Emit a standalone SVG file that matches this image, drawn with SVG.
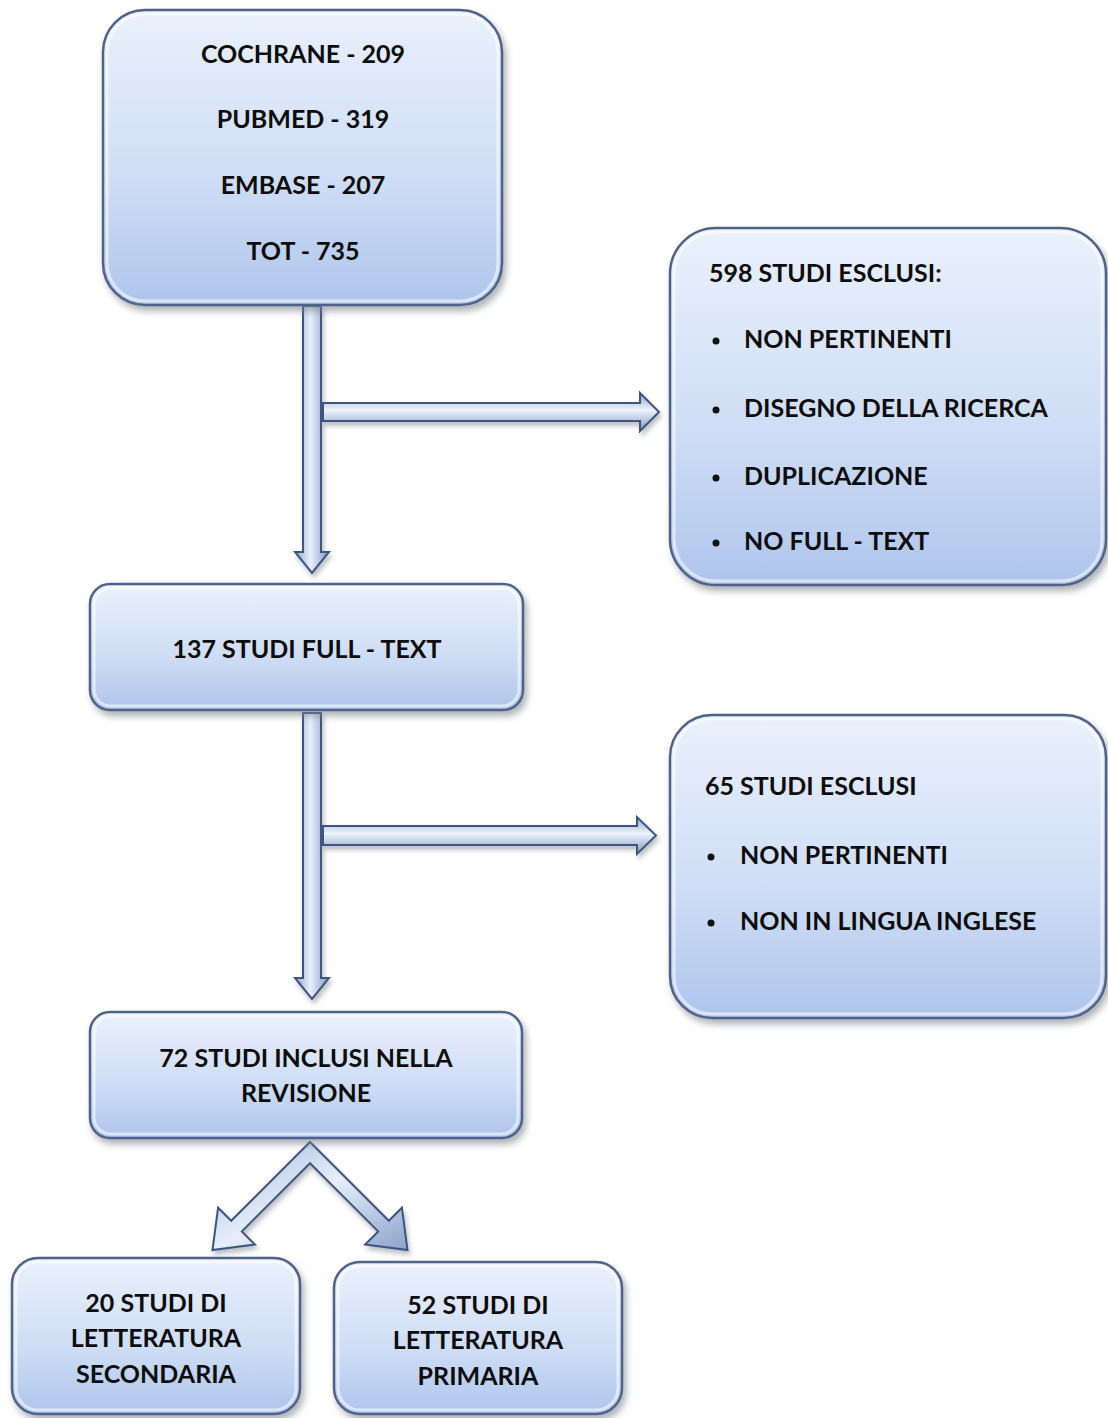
<svg xmlns="http://www.w3.org/2000/svg" width="1108" height="1418" viewBox="0 0 1108 1418">
<style>
.box{fill:url(#gBox);stroke:#4f6488;stroke-width:2.5;filter:url(#sh)}
.bev{fill:none;stroke:#ffffff;stroke-opacity:0.55;stroke-width:3}
.arr{fill:url(#gArr);stroke:#3e5680;stroke-width:2;stroke-linejoin:miter;filter:url(#sh2)}
.arrh{fill:url(#gArrH);stroke:#3e5680;stroke-width:2;stroke-linejoin:miter;filter:url(#sh2)}
text{font-family:"Lato","Open Sans","Liberation Sans",sans-serif;font-weight:700;font-size:25px;fill:#0d0d0d}
.c{text-anchor:middle}
</style>
<defs>
<linearGradient id="gBox" x1="0" y1="0" x2="0" y2="1">
<stop offset="0" stop-color="#eaf1fc"/>
<stop offset="0.6" stop-color="#cddcf5"/>
<stop offset="1" stop-color="#aec5ec"/>
</linearGradient>
<linearGradient id="gArr" x1="0" y1="0" x2="1" y2="0">
<stop offset="0" stop-color="#8ea6cf"/>
<stop offset="0.45" stop-color="#e9f0fb"/>
<stop offset="1" stop-color="#7f98c4"/>
</linearGradient>
<linearGradient id="gArrH" x1="0" y1="0" x2="0" y2="1">
<stop offset="0" stop-color="#8ea6cf"/>
<stop offset="0.45" stop-color="#eef4fc"/>
<stop offset="1" stop-color="#7f98c4"/>
</linearGradient>
<linearGradient id="gArrD" x1="0" y1="0" x2="1" y2="1">
<stop offset="0" stop-color="#9fb5da"/>
<stop offset="0.5" stop-color="#e6eefa"/>
<stop offset="1" stop-color="#8aa2cb"/>
</linearGradient>
<filter id="sh" x="-10%" y="-10%" width="125%" height="130%">
<feDropShadow dx="3" dy="5" stdDeviation="3.5" flood-color="#7a7f88" flood-opacity="0.6"/>
</filter>
<filter id="sh2" x="-20%" y="-20%" width="150%" height="150%">
<feDropShadow dx="2" dy="4" stdDeviation="2.5" flood-color="#7a7f88" flood-opacity="0.5"/>
</filter>
</defs>

<g id="connectors">
<path class="arr" d="M303,306 L321,306 L321,552 L329,552 L312,573 L295,552 L303,552 Z"/>
<path class="arrh" d="M323,403 L640,403 L640,393 L659,412 L640,431 L640,421 L323,421 Z"/>
<path class="arr" d="M303,713 L321,713 L321,978 L329,978 L312,999 L295,978 L303,978 Z"/>
<path class="arrh" d="M323,826 L637,826 L637,817 L656,835.5 L637,854 L637,845 L323,845 Z"/>
<path class="arr" style="fill:url(#gArrD)" d="M310,1142 L388.8,1220.8 L401.9,1207.7 L407.5,1250.1 L365.1,1244.5 L378.2,1231.4 L310,1163.2 L241.8,1231.4 L254.9,1244.5 L212.5,1250.1 L218.1,1207.7 L231.2,1220.8 Z"/>
</g>

<g id="node-databases">
<rect class="box" x="103" y="10" width="399" height="295" rx="42"/>
<rect class="bev" x="107" y="14" width="391" height="287" rx="38"/>
<text class="c" x="303" y="63">COCHRANE - 209</text>
<text class="c" x="303" y="128">PUBMED - 319</text>
<text class="c" x="303" y="194">EMBASE - 207</text>
<text class="c" x="303" y="260">TOT - 735</text>
</g>

<g id="node-esclusi-598">
<rect class="box" x="670" y="228" width="436" height="357" rx="46"/>
<rect class="bev" x="674" y="232" width="428" height="349" rx="42"/>
<text x="709" y="282">598 STUDI ESCLUSI:</text>
<circle cx="716" cy="341" r="3.5" fill="#111"/>
<text x="744" y="348">NON PERTINENTI</text>
<circle cx="716" cy="410" r="3.5" fill="#111"/>
<text x="744" y="417">DISEGNO DELLA RICERCA</text>
<circle cx="716" cy="478" r="3.5" fill="#111"/>
<text x="744" y="485">DUPLICAZIONE</text>
<circle cx="716" cy="543" r="3.5" fill="#111"/>
<text x="744" y="550">NO FULL - TEXT</text>
</g>

<g id="node-full-text">
<rect class="box" x="90" y="584" width="433" height="126" rx="20"/>
<rect class="bev" x="94" y="588" width="425" height="118" rx="17"/>
<text class="c" x="307" y="658">137 STUDI FULL - TEXT</text>
</g>

<g id="node-esclusi-65">
<rect class="box" x="670" y="715" width="436" height="303" rx="42"/>
<rect class="bev" x="674" y="719" width="428" height="295" rx="38"/>
<text x="705" y="795">65 STUDI ESCLUSI</text>
<circle cx="711" cy="857" r="3.5" fill="#111"/>
<text x="740" y="864">NON PERTINENTI</text>
<circle cx="711" cy="923" r="3.5" fill="#111"/>
<text x="740" y="930">NON IN LINGUA INGLESE</text>
</g>

<g id="node-inclusi">
<rect class="box" x="90" y="1012" width="432" height="126" rx="20"/>
<rect class="bev" x="94" y="1016" width="424" height="118" rx="17"/>
<text class="c" x="306" y="1067">72 STUDI INCLUSI NELLA</text>
<text class="c" x="306" y="1102">REVISIONE</text>
</g>

<g id="node-secondaria">
<rect class="box" x="12" y="1258" width="288" height="156" rx="26"/>
<rect class="bev" x="16" y="1262" width="280" height="148" rx="22"/>
<text class="c" x="156" y="1312">20 STUDI DI</text>
<text class="c" x="156" y="1347">LETTERATURA</text>
<text class="c" x="156" y="1383">SECONDARIA</text>
</g>

<g id="node-primaria">
<rect class="box" x="334" y="1262" width="288" height="152" rx="26"/>
<rect class="bev" x="338" y="1266" width="280" height="144" rx="22"/>
<text class="c" x="478" y="1314">52 STUDI DI</text>
<text class="c" x="478" y="1349">LETTERATURA</text>
<text class="c" x="478" y="1385">PRIMARIA</text>
</g>
</svg>
